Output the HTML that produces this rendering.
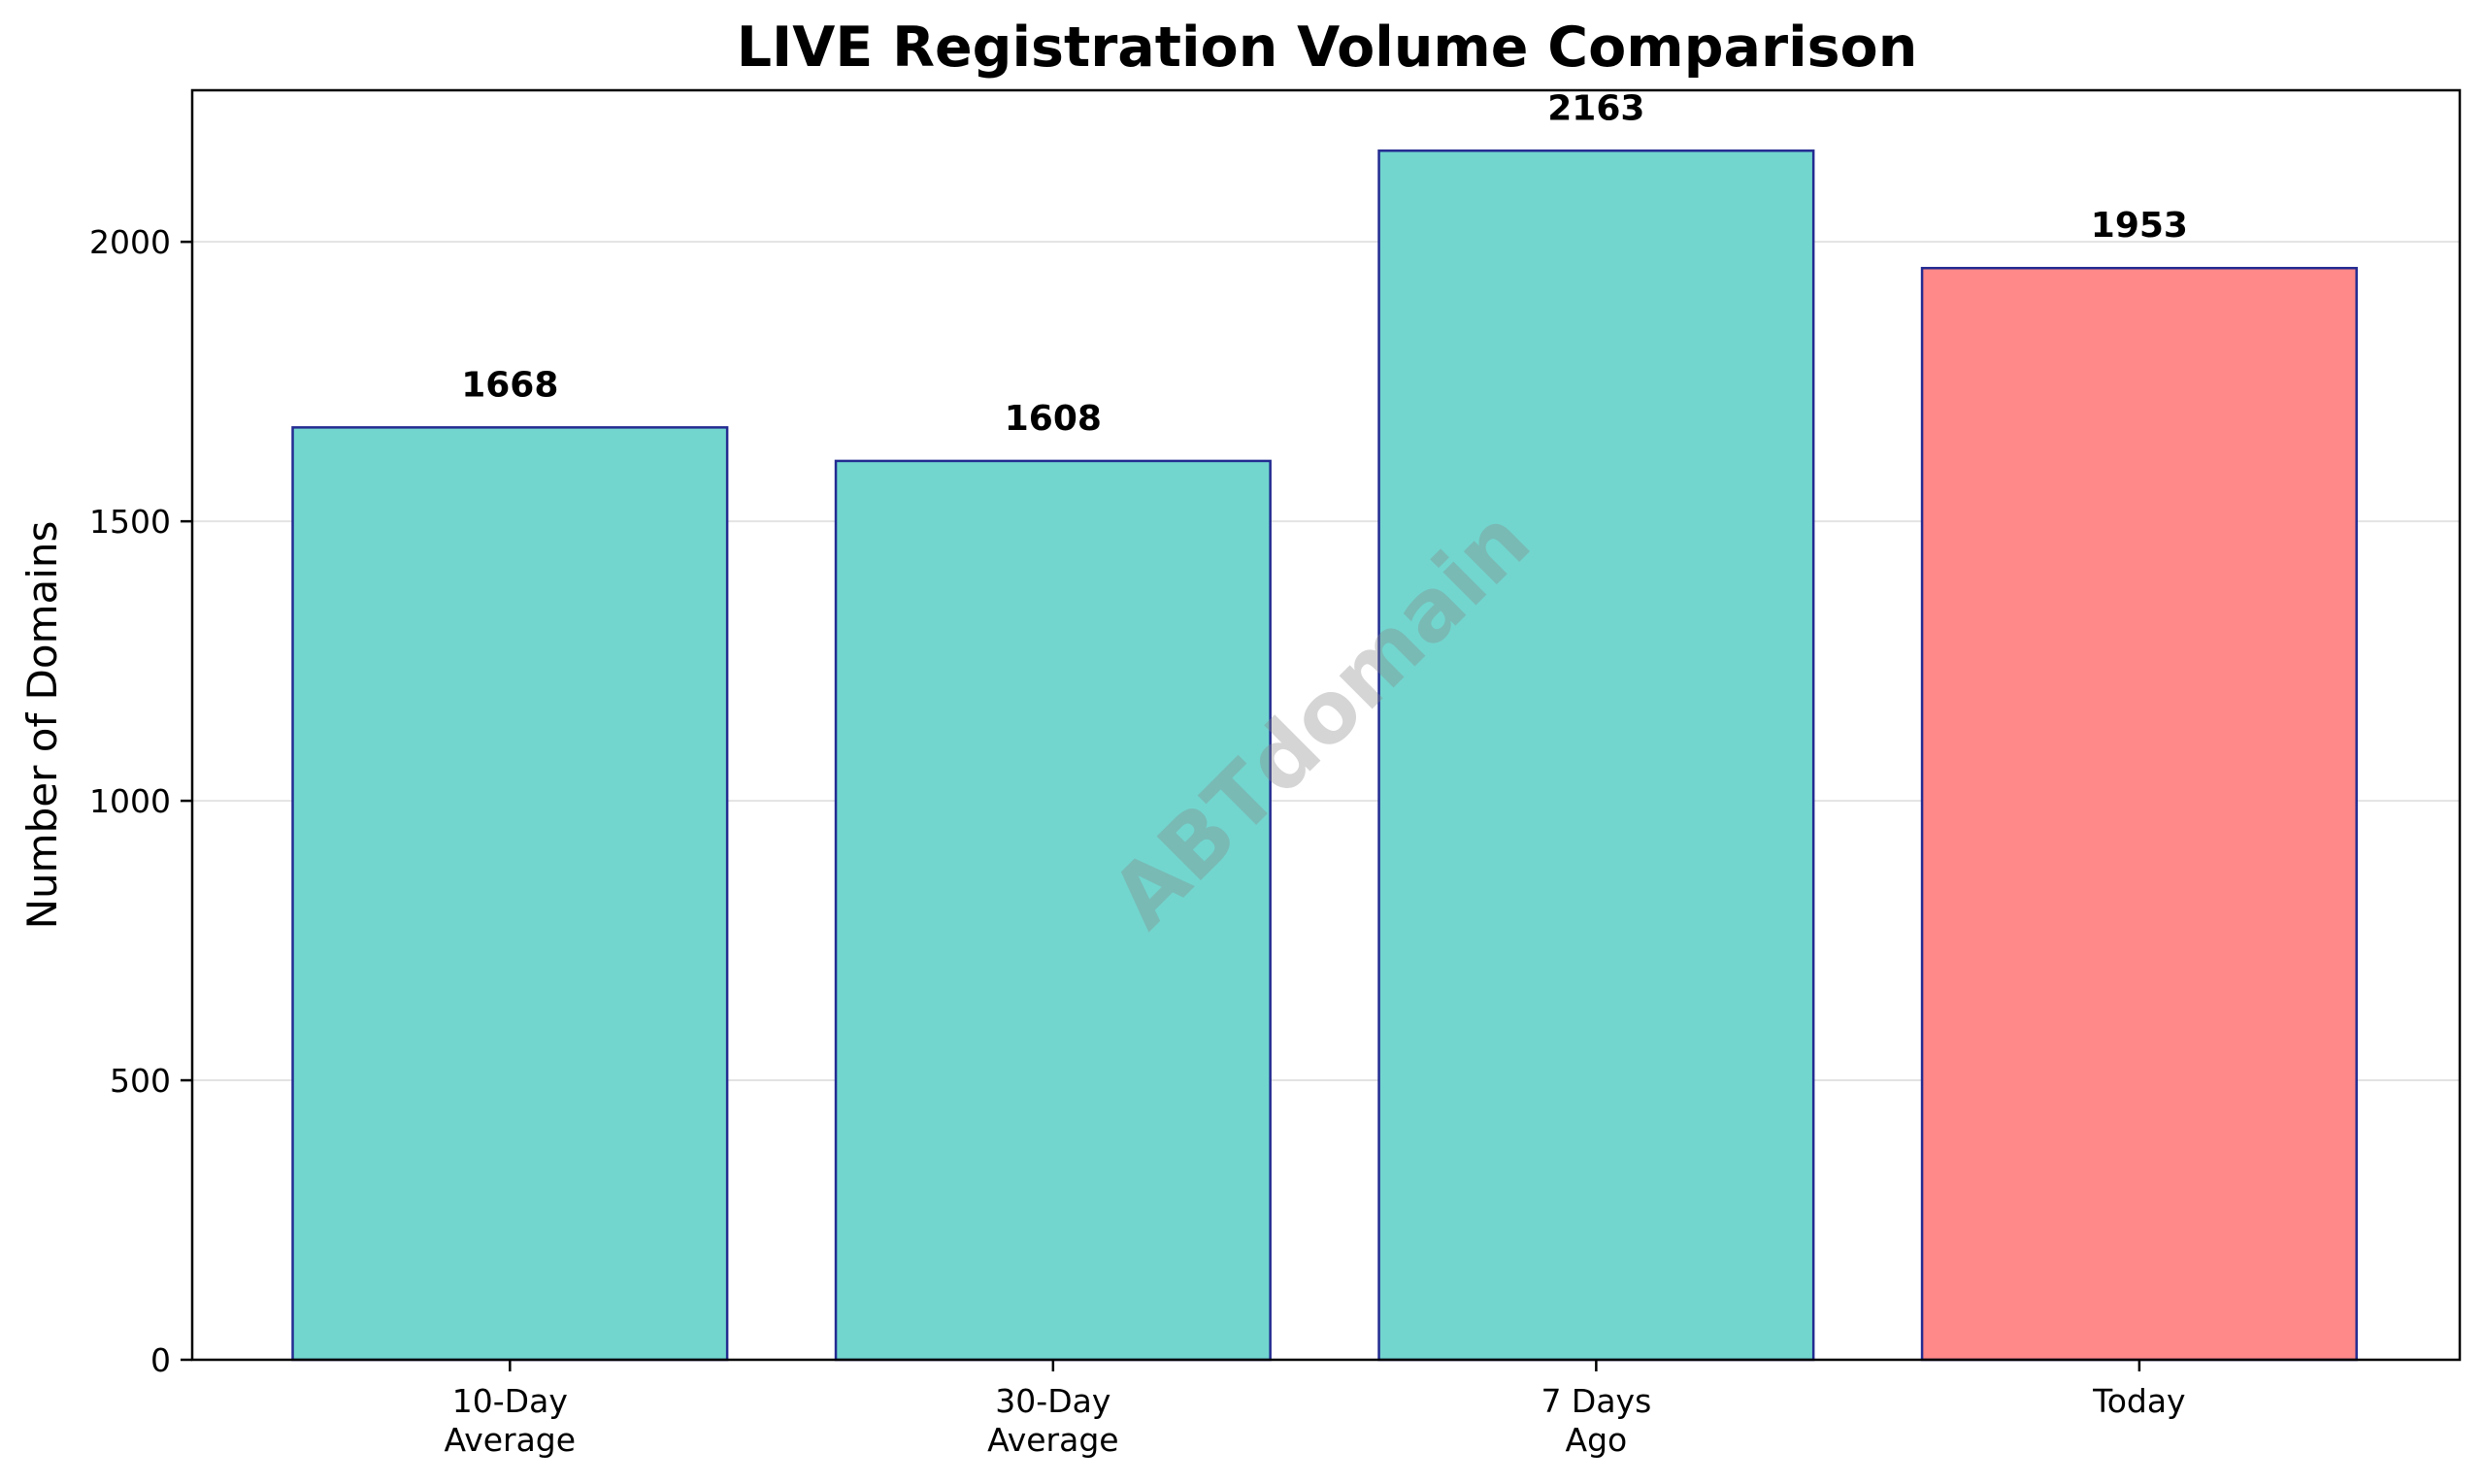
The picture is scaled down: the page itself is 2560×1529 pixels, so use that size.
<!DOCTYPE html>
<html><head><meta charset="utf-8"><style>
html,body{margin:0;padding:0;background:#fff}
svg{display:block;font-family:"DejaVu Sans","Liberation Sans",sans-serif}
</style></head><body>
<svg id="chart" width="2560" height="1529" viewBox="0 0 2560 1529">
<text x="1367" y="68" text-anchor="middle" font-size="57" font-weight="bold" fill="#000">LIVE Registration Volume Comparison</text>
<text transform="translate(58,747) rotate(-90)" text-anchor="middle" font-size="42" fill="#000">Number of Domains</text>
<g id="grid"></g><g id="bars"></g><g id="labels"></g>
<text transform="translate(1382,762) rotate(-45)" text-anchor="middle" font-size="88" font-weight="bold" fill="#888" fill-opacity="0.35">ABTdomain</text>
<rect x="198" y="93" width="2336" height="1308" fill="none" stroke="#000" stroke-width="2.5"/>
<g id="ticks"></g>
</svg>
<script>
const categories = [["10-Day","Average"],["30-Day","Average"],["7 Days","Ago"],["Today"]];
const values = [1668, 1608, 2163, 1953];
const yTicks = [0, 500, 1000, 1500, 2000];
const fills = ["#72d6ce","#72d6ce","#72d6ce","#ff8888"];

const NS="http://www.w3.org/2000/svg";
const L=198,R=2534,T=93,B=1401;
const yMax=Math.max(...values)*1.05;
const xMin=-0.585,xMax=categories.length-0.41;
const y=v=>B-(v/yMax)*(B-T);
const x=i=>L+(i-xMin)/(xMax-xMin)*(R-L);
const bw=0.8*(R-L)/(xMax-xMin);
function mk(tag,attrs,parent){const e=document.createElementNS(NS,tag);for(const k in attrs)e.setAttribute(k,attrs[k]);document.getElementById(parent).appendChild(e);return e;}
yTicks.forEach(t=>{
  if(t>0){const g=mk('line',{x1:L,x2:R,y1:y(t),y2:y(t),stroke:'#e3e3e3','stroke-width':2},'grid');
  
  }
  const tk=mk('line',{x1:L-12,x2:L,y1:y(t),y2:y(t),stroke:'#000','stroke-width':2.5},'ticks');
  
  
  const tl=mk('text',{x:L-22,y:y(t)+12,'text-anchor':'end','font-size':33,fill:'#000'},'ticks');
  tl.textContent=t;
  
  
});
values.forEach((v,i)=>{
  const r=mk('rect',{x:x(i)-bw/2,y:y(v),width:bw,height:B-y(v),fill:fills[i],stroke:'#232b91','stroke-width':2.5},'bars');
  
  
  const t=mk('text',{x:x(i),y:y(v)-32,'text-anchor':'middle','font-size':36,'font-weight':'bold',fill:'#000'},'labels');
  t.textContent=v;
  
  
  const tk=mk('line',{x1:x(i),x2:x(i),y1:B,y2:B+12,stroke:'#000','stroke-width':2.5},'ticks');
  
  
  categories[i].forEach((line,j)=>{
    const tl=mk('text',{x:x(i),y:B+54+j*40,'text-anchor':'middle','font-size':33,fill:'#000'},'ticks');
    tl.textContent=line;
    
    
  });
});
</script>
</body></html>
